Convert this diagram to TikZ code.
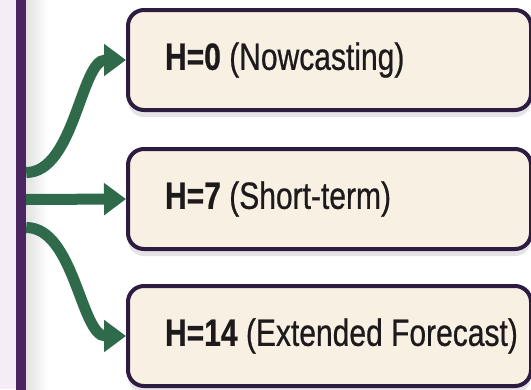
\documentclass[tikz,border=0pt]{standalone}
\usepackage{fontspec}
\setmainfont[FakeStretch=0.79, FakeBold=0.6]{Liberation Sans}
\usetikzlibrary{arrows.meta,shadows,calc}
\definecolor{barpurple}{HTML}{4A2562}
\definecolor{boxborder}{HTML}{2E1B40}
\definecolor{boxfill}{HTML}{F7F0E3}
\definecolor{arrowgreen}{HTML}{2F6A4B}
\definecolor{lav}{HTML}{F4EDF5}
\definecolor{txt}{HTML}{1E1A1C}
\newcommand{\boxline}[1]{\makebox[329pt][l]{#1}}
\tikzset{
  horizonbox/.style={draw=boxborder, line width=4pt, fill=boxfill, rounded corners=16pt,
    anchor=west, minimum width=403pt, minimum height=100pt,
    inner xsep=37pt, font=\fontsize{38}{42}\selectfont, text=txt,
    drop shadow={shadow xshift=0pt, shadow yshift=-7pt, opacity=0.12, fill=boxborder}},
  flowarrow/.style={draw=arrowgreen, line width=11pt, -{Triangle[width=31pt,length=22pt]}},
  sidebar/.style={fill=barpurple, minimum width=10pt, minimum height=400pt, inner sep=0pt}
}
\begin{document}
\begin{tikzpicture}[x=1pt,y=-1pt]
\useasboundingbox (0,0) rectangle (531,389);
\fill[white] (0,0) rectangle (531,389);
\fill[lav] (0,0) rectangle (16,389);
\shade[left color=black!12, right color=white] (25,0) rectangle (48,389);
\node[sidebar] (bar) at (21,194.5) {};
\node[horizonbox] (b1) at (126,60) {\boxline{{\bfseries H=0} (Nowcasting)}};
\node[horizonbox] (b2) at (126,199) {\boxline{{\bfseries H=7} (Short-term)}};
\node[horizonbox] (b3) at (126,336) {\boxline{{\bfseries H=14} (Extended Forecast)}};
\coordinate (s1) at ($(bar.east)+(0,-22)$);
\coordinate (s2) at ($(bar.east)+(0,5)$);
\coordinate (s3) at ($(bar.east)+(0,33)$);
\draw[flowarrow] (s1) .. controls +(48,0) and +(-45,0) .. (b1.west);
\draw[flowarrow] (s2) -- (b2.west);
\draw[flowarrow] (s3) .. controls +(48,0) and +(-45,0) .. (b3.west);
\end{tikzpicture}
\end{document}
